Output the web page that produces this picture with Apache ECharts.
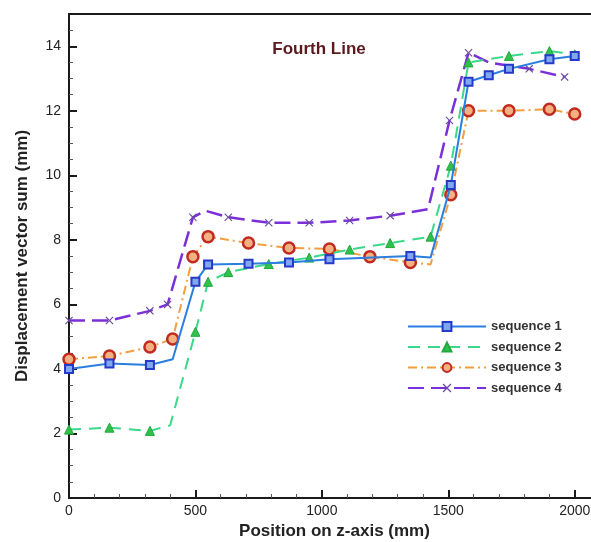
<!DOCTYPE html>
<html>
<head>
<meta charset="utf-8">
<script src="https://cdn.jsdelivr.net/npm/echarts@6/dist/echarts.min.js"></script>
<style>
  html, body { margin: 0; padding: 0; background: #fff; }
  #chart { width: 591px; height: 542px; }
</style>
</head>
<body>
<div id="chart"></div>
<script>
// position on z-axis (mm) and displacement (mm)
const seq1X = [0, 160, 320, 410, 500, 550, 710, 870, 1030, 1350, 1430, 1510, 1580, 1660, 1740, 1900, 2000]
const seq1Y = [4.0, 4.17, 4.12, 4.3, 6.7, 7.24, 7.26, 7.3, 7.4, 7.5, 7.45, 9.7, 12.9, 13.1, 13.3, 13.6, 13.7]
const seq1Mark = [1, 1, 1, 0, 1, 1, 1, 1, 1, 1, 0, 1, 1, 1, 1, 1, 1]

const seq2X = [0, 160, 320, 400, 500, 550, 630, 790, 950, 1110, 1270, 1430, 1510, 1580, 1740, 1900, 2000]
const seq2Y = [2.12, 2.18, 2.08, 2.25, 5.15, 6.7, 7.0, 7.25, 7.45, 7.7, 7.9, 8.1, 10.3, 13.5, 13.7, 13.85, 13.75]
const seq2Mark = [1, 1, 1, 0, 1, 1, 1, 1, 1, 1, 1, 1, 1, 1, 1, 1, 1]

const seq3X = [0, 160, 320, 410, 490, 550, 710, 870, 1030, 1190, 1350, 1430, 1510, 1580, 1740, 1900, 2000]
const seq3Y = [4.3, 4.4, 4.68, 4.93, 7.48, 8.1, 7.9, 7.75, 7.72, 7.48, 7.3, 7.24, 9.4, 12.0, 12.0, 12.05, 11.9]
const seq3Mark = [1, 1, 1, 1, 1, 1, 1, 1, 1, 1, 1, 0, 1, 1, 1, 1, 1]

const seq4X = [0, 160, 320, 390, 490, 540, 630, 790, 950, 1110, 1270, 1420, 1505, 1580, 1660, 1820, 1960]
const seq4Y = [5.5, 5.5, 5.8, 6.0, 8.7, 8.9, 8.7, 8.53, 8.53, 8.6, 8.75, 8.95, 11.7, 13.8, 13.5, 13.3, 13.05]
const seq4Mark = [1, 1, 1, 1, 1, 0, 1, 1, 1, 1, 1, 0, 1, 1, 0, 1, 1]

const seriesNames = ['sequence 1', 'sequence 2', 'sequence 3', 'sequence 4']
const xTicks = [0, 500, 1000, 1500, 2000]
const yTicks = [0, 2, 4, 6, 8, 10, 12, 14]

const crossPath = 'path://M0,1L1,0L5,4L9,0L10,1L6,5L10,9L9,10L5,6L1,10L0,9L4,5Z'

const toData = (xs, ys, marks) => xs.map((x, i) => {
  const item = { value: [x, ys[i]] }
  if (!marks[i]) item.symbol = 'none'
  return item
})

const font = 'Liberation Sans, Arial, Helvetica, sans-serif'

const chart = echarts.init(document.getElementById('chart'))

const option = {
  animation: false,
  backgroundColor: '#fff',
  title: {
    text: 'Fourth Line',
    left: 314,
    top: 36,
    textAlign: 'center',
    textStyle: { color: '#5c1a1e', fontSize: 17, fontWeight: 'bold', fontFamily: font }
  },
  legend: {
    orient: 'vertical',
    left: 402,
    top: 315,
    itemWidth: 78,
    itemHeight: 11,
    itemGap: 7.5,
    data: seriesNames,
    textStyle: { color: '#333', fontSize: 13, fontWeight: 'bold', fontFamily: font }
  },
  grid: {
    left: 69,
    top: 14,
    width: 531,
    height: 484,
    outerBoundsMode: 'none',
    containLabel: false,
    show: true,
    borderColor: '#1a1a1a',
    borderWidth: 2
  },
  xAxis: {
    type: 'value',
    min: 0,
    max: 2100,
    interval: 500,
    name: 'Position on z-axis (mm)',
    nameLocation: 'middle',
    nameGap: 25,
    nameTextStyle: { color: '#222', fontSize: 17, fontWeight: 'bold', fontFamily: font },
    axisLine: { show: true, lineStyle: { color: '#1a1a1a', width: 2 } },
    axisTick: { show: true, inside: true, length: 8, lineStyle: { color: '#1a1a1a', width: 2 } },
    minorTick: { show: true, splitNumber: 5, length: 4, lineStyle: { color: '#555', width: 1 } },
    splitLine: { show: false },
    axisLabel: {
      color: '#222', fontSize: 14, fontFamily: font, margin: 6,
      formatter: v => (xTicks.includes(v) ? String(v) : '')
    }
  },
  yAxis: {
    type: 'value',
    min: 0,
    max: 15,
    interval: 2,
    name: 'Displacement vector sum (mm)',
    nameLocation: 'middle',
    nameGap: 38,
    nameTextStyle: { color: '#222', fontSize: 17, fontWeight: 'bold', fontFamily: font },
    axisLine: { show: true, lineStyle: { color: '#1a1a1a', width: 2 } },
    axisTick: { show: true, inside: true, length: 8, lineStyle: { color: '#1a1a1a', width: 2 } },
    minorTick: { show: true, splitNumber: 4, length: 4, lineStyle: { color: '#555', width: 1 } },
    splitLine: { show: false },
    axisLabel: {
      color: '#222', fontSize: 14, fontFamily: font, margin: 8,
      formatter: v => (yTicks.includes(v) ? String(v) : '')
    }
  },
  series: [
    {
      name: seriesNames[0],
      type: 'line',
      data: toData(seq1X, seq1Y, seq1Mark),
      symbol: 'rect',
      symbolSize: 8,
      lineStyle: { color: '#2a7ee0', width: 2 },
      itemStyle: { color: '#7fa8f0', borderColor: '#2538c8', borderWidth: 2 },
      z: 4
    },
    {
      name: seriesNames[1],
      type: 'line',
      data: toData(seq2X, seq2Y, seq2Mark),
      symbol: 'triangle',
      symbolSize: 9,
      lineStyle: { color: '#3ad88a', width: 2, type: [12, 8] },
      itemStyle: { color: '#2ec24a', borderColor: '#22a83c', borderWidth: 1 },
      z: 3
    },
    {
      name: seriesNames[2],
      type: 'line',
      data: toData(seq3X, seq3Y, seq3Mark),
      symbol: 'circle',
      symbolSize: 11,
      lineStyle: { color: '#f0a040', width: 2, type: [9, 4, 2, 4] },
      itemStyle: { color: '#f4b080', borderColor: '#c02a20', borderWidth: 2.5 },
      z: 2
    },
    {
      name: seriesNames[3],
      type: 'line',
      data: toData(seq4X, seq4Y, seq4Mark),
      symbol: crossPath,
      symbolSize: 8,
      lineStyle: { color: '#7a2fd8', width: 2.5, type: [16, 7] },
      itemStyle: { color: '#6a4aa0' },
      z: 1
    }
  ]
}

chart.setOption(option)
</script>
</body>
</html>
